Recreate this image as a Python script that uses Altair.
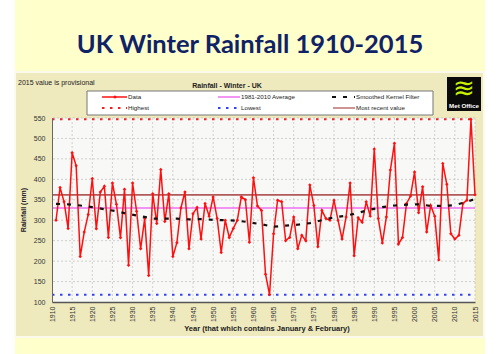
import altair as alt
import pandas as pd

# ---------------- data ----------------
years = list(range(1911, 2016))
rain = [
    300, 380, 345, 280, 465, 433, 211, 271, 314,            # 1911-1919
    402, 279, 369, 383, 258, 391, 339, 257, 376, 190,       # 1920-1929
    391, 322, 230, 304, 165, 365, 292, 424, 297, 365,       # 1930-1939
    211, 245, 330, 369, 230, 316, 331, 254, 341, 310,       # 1940-1949
    357, 304, 221, 300, 258, 280, 300, 357, 350, 246,       # 1950-1959
    404, 335, 324, 168, 118, 267, 349, 345, 250, 258,       # 1960-1969
    308, 230, 263, 250, 386, 336, 235, 324, 304, 300,       # 1970-1979
    349, 300, 254, 308, 391, 213, 306, 295, 345, 310,       # 1980-1989
    474, 304, 244, 308, 423, 488, 242, 258, 341, 359,       # 1990-1999
    418, 318, 382, 271, 336, 310, 203, 439, 388, 267,       # 2000-2009
    254, 263, 341, 349, 547, 362,                           # 2010-2015
]
smooth_years = [1911, 1914, 1917, 1920, 1923, 1926, 1929, 1932, 1935, 1938,
                1941, 1944, 1947, 1950, 1953, 1956, 1959, 1962, 1965, 1968,
                1971, 1974, 1977, 1980, 1983, 1986, 1989, 1992, 1995, 1998,
                2001, 2004, 2007, 2010, 2013, 2015]
smooth_vals = [340, 339, 336, 332, 327, 322, 315, 310, 304, 304,
               304, 302, 303, 301, 300, 299, 295, 290, 284, 287,
               289, 293, 300, 307, 311, 318, 326, 332, 336, 338,
               339, 335, 335, 337, 345, 352]
highest = 547
lowest = 118
average_8110 = 330
most_recent = 362

x_ticks = list(range(1910, 2016, 5))
y_ticks = list(range(100, 551, 50))

# ---------------- layout helpers ----------------
W, H = 423, 184
FONT = "Liberation Sans"
xs = alt.Scale(domain=[1910, 2015], nice=False, zero=False)
ys = alt.Scale(domain=[100, 550], nice=False, zero=False)
one = pd.DataFrame({"a": [0]})

x_axis = alt.Axis(values=x_ticks, labelAngle=270, labelFontSize=7,
                  labelFont=FONT, labelColor="#333333", domainColor="#555555",
                  domainWidth=1.5, ticks=False, grid=False, labelPadding=4,
                  title=None, zindex=1, labelOverlap=False, format="d")
y_axis = alt.Axis(values=y_ticks, labelFontSize=7, labelFont=FONT,
                  labelColor="#333333", domainColor="#666666", domainWidth=1,
                  ticks=False, grid=False, labelPadding=7, title=None, zindex=1,
                  labelOverlap=False)


def X(field):
    return alt.X(field, scale=xs, axis=x_axis)


def Y(field):
    return alt.Y(field, scale=ys, axis=y_axis)


def rect(x1, x2, y1, y2, fill, stroke=None, sw=0):
    kw = dict(fill=fill)
    if stroke:
        kw.update(stroke=stroke, strokeWidth=sw)
    return alt.Chart(one).mark_rect(**kw).encode(
        x=alt.value(x1), x2=alt.value(x2), y=alt.value(y1), y2=alt.value(y2))


def seg(x1, x2, y, color, width, dash=None):
    kw = dict(color=color, strokeWidth=width)
    if dash:
        kw["strokeDash"] = dash
    return alt.Chart(one).mark_rule(**kw).encode(
        x=alt.value(x1), x2=alt.value(x2), y=alt.value(y))


def label(txt, x, y, size, bold=False, color="#222222", align="left",
          angle=0, font=FONT, baseline="middle"):
    kw = dict(text=txt, fontSize=size, font=font, color=color, align=align,
              baseline=baseline, fontWeight="bold" if bold else "normal")
    if angle:
        kw["angle"] = angle
    return alt.Chart(one).mark_text(**kw).encode(x=alt.value(x), y=alt.value(y))


layers = []
# slide background & chart panel
layers.append(rect(-37, 433, -118, 236, "#FFFFCC"))
layers.append(rect(-38, 433, -47, 220, "#FBFAEC"))
layers.append(rect(-36, 431, -45, 218, "#EFE9BE"))
layers.append(rect(0, W, 0, H, "#F8F8F6"))

# grid
grid_x = pd.DataFrame({"year": x_ticks[1:]})
grid_y = pd.DataFrame({"v": y_ticks[1:]})
layers.append(alt.Chart(grid_x).mark_rule(color="#BDBDBD", strokeWidth=0.7,
                                          strokeDash=[2, 2]).encode(x=X("year:Q")))
layers.append(alt.Chart(grid_y).mark_rule(color="#BDBDBD", strokeWidth=0.7,
                                          strokeDash=[2, 2]).encode(y=Y("v:Q")))


# reference lines
def hline(v, color, width, dash=None):
    kw = dict(color=color, strokeWidth=width)
    if dash:
        kw["strokeDash"] = dash
    return alt.Chart(pd.DataFrame({"v": [v]})).mark_rule(**kw).encode(
        y=Y("v:Q"), x=alt.value(0), x2=alt.value(W))


layers.append(hline(most_recent, "#B05A5A", 1.6))
layers.append(hline(average_8110, "#F070F0", 1.6))
layers.append(hline(lowest, "#3344EE", 2, [2.5, 5.5]))
layers.append(hline(highest, "#EE2222", 2, [2.5, 5.5]))

# data
df = pd.DataFrame({"year": years, "rain": rain})
layers.append(alt.Chart(df).mark_line(color="#FF1010", strokeWidth=1.5).encode(
    x=X("year:Q"), y=Y("rain:Q")))
layers.append(alt.Chart(df).mark_point(shape="diamond", filled=True, size=12,
                                       color="#FF1010", opacity=1).encode(
    x=X("year:Q"), y=Y("rain:Q")))

sm = pd.DataFrame({"year": smooth_years, "v": smooth_vals})
layers.append(alt.Chart(sm).mark_line(color="#111111", strokeWidth=2.2,
                                      strokeDash=[4, 7]).encode(
    x=X("year:Q"), y=Y("v:Q")))

# legend box
layers.append(rect(35, 381, -27, -3, "#FFFFFF", "#777777", 1))
layers.append(seg(50, 75, -21, "#FF1010", 1.5))
layers.append(alt.Chart(one).mark_point(shape="diamond", filled=True, size=14,
                                        color="#FF1010", opacity=1).encode(
    x=alt.value(63), y=alt.value(-21)))
layers.append(label("Data", 76, -21, 6.2))
layers.append(seg(166, 188, -21, "#F070F0", 1.5))
layers.append(label("1981-2010 Average", 189, -21, 6.2))
layers.append(seg(280, 303, -21, "#111111", 2.2, [4, 7]))
layers.append(label("Smoothed Kernel Filter", 304, -21, 6.2))
layers.append(seg(50, 75, -10, "#EE2222", 2, [2.5, 5.5]))
layers.append(label("Highest", 76, -10, 6.2))
layers.append(seg(166, 188, -10, "#3344EE", 2, [2.5, 5.5]))
layers.append(label("Lowest", 189, -10, 6.2))
layers.append(seg(281, 303, -10, "#B05A5A", 1.3))
layers.append(label("Most recent value", 304, -10, 6.2))

# panel texts
layers.append(label("2015 value is provisional", -34, -35.5, 7))
layers.append(label("Rainfall - Winter - UK", 175, -32, 7, bold=True, align="center"))
layers.append(label("Year (that which contains January & February)", 215, 211, 7.5,
                    bold=True, align="center"))
layers.append(label("Rainfall (mm)", -28, 92, 7, bold=True, align="center", angle=270))

# slide title
layers.append(label("UK Winter Rainfall 1910-2015", 198, -65, 25.5, bold=True,
                    color="#102266", align="center", font="Lato",
                    baseline="alphabetic"))

# Met Office logo
layers.append(rect(395, 429, -41, -7, "#0A0A0A"))
layers.append(label("≋", 412, -29, 26, color="#C8F000", align="center",
                    font="DejaVu Sans"))
layers.append(label("Met Office", 412, -12, 6.2, bold=True, color="#FFFFFF",
                    align="center"))

chart = alt.layer(*layers).properties(
    width=W, height=H,
    padding={"left": 52, "top": 118, "right": 25, "bottom": 52},
    autosize="none",
    background="white",
).configure_view(strokeWidth=0)

chart.save("out.html", embed_options={"renderer": "svg", "actions": False})
